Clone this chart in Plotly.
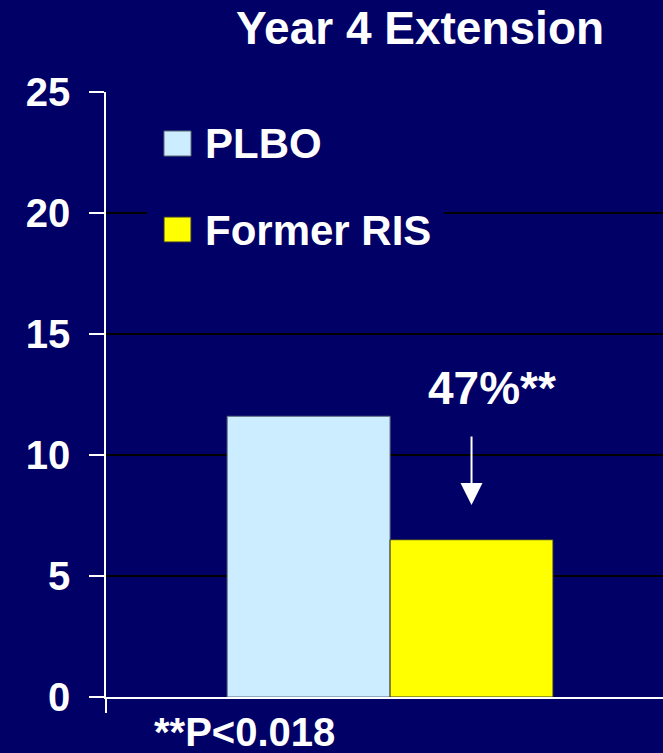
import plotly.graph_objects as go

# Data
groups = ["PLBO", "Former RIS"]
values = [11.6, 6.5]
bar_colors = ["#CCECFF", "#FFFF00"]
line_colors = ["#5A6A78", "#333333"]
y_ticks = [0, 5, 10, 15, 20, 25]
title_text = "Year 4 Extension"
change_label = "47%**"
footnote = "**P<0.018"

BG = "#000066"
FONT = "Liberation Sans, Arial, Helvetica, sans-serif"
W, H = 663, 753
BARGAP = 0.415

# plot-area geometry in pixels
PL, PR, PT, PB = 106, 663, 92, 697


def fx(px):
    return (px - PL) / (PR - PL)


def fy(py):
    return (PB - py) / (PB - PT)


fig = go.Figure()
for name, v, c, lc in zip(groups, values, bar_colors, line_colors):
    fig.add_trace(go.Bar(
        x=[0], y=[v], name=name, marker=dict(color=c, line=dict(color=lc, width=1)),
        showlegend=False, hoverinfo="skip",
    ))

fig.update_layout(
    width=W, height=H,
    paper_bgcolor=BG, plot_bgcolor=BG,
    margin=dict(l=PL, r=W - PR, t=PT, b=H - PB),
    barmode="group", bargap=BARGAP, bargroupgap=0,
    font=dict(family=FONT, color="white", size=40, weight="bold"),
    title=dict(text=title_text, x=420 / W, xanchor="center", y=1 - 28 / H, yanchor="middle",
               xref="container", yref="container",
               font=dict(size=46, family=FONT, color="white", weight="bold")),
    showlegend=False,
)

fig.update_xaxes(
    range=[-0.51, 0.49], showgrid=False, zeroline=False,
    showline=True, linecolor="white", linewidth=1.5,
    tickmode="array", tickvals=[-0.51], ticktext=[""],
    ticks="outside", ticklen=14, tickcolor="white", tickwidth=1.5,
)
fig.update_yaxes(
    range=[0, 25], tickvals=y_ticks, showgrid=True, gridcolor="black", gridwidth=2,
    zeroline=False, showline=True, linecolor="white", linewidth=1.5,
    ticks="outside", ticklen=15, tickcolor="white", tickwidth=1.5,
    ticklabelstandoff=11,
    tickfont=dict(size=40, family=FONT, color="white", weight="bold"),
)

# legend panel (covers the gridline behind it)
fig.add_shape(type="rect", xref="paper", yref="paper",
              x0=fx(147), x1=fx(444), y0=fy(262), y1=fy(112),
              fillcolor=BG, line=dict(width=0), layer="above")
for i, (name, c, lc) in enumerate(zip(groups, bar_colors, line_colors)):
    top = 131 + i * 86
    fig.add_shape(type="rect", xref="paper", yref="paper",
                  x0=fx(164), x1=fx(191), y0=fy(top + 25), y1=fy(top),
                  fillcolor=c, line=dict(color=lc, width=1), layer="above")
    fig.add_annotation(text=name, xref="paper", yref="paper",
                       x=fx(203), y=fy(top + 13), xanchor="left", yanchor="middle",
                       showarrow=False,
                       font=dict(size=42, family=FONT, color="white", weight="bold"))

# reduction arrow above the second bar
bar_offset = (1 - BARGAP) / 4
fig.add_annotation(x=bar_offset, y=fy(505), xref="x", yref="paper",
                   ax=0, ay=-70, axref="pixel", ayref="pixel", text="",
                   showarrow=True, arrowhead=2, arrowsize=2.2, arrowwidth=2,
                   arrowcolor="white")
fig.add_annotation(text=change_label, x=fx(492), y=fy(388), xref="paper", yref="paper",
                   xanchor="center", yanchor="middle", showarrow=False,
                   font=dict(size=46, family=FONT, color="white", weight="bold"))

fig.add_annotation(text=footnote, x=fx(244), y=fy(732), xref="paper", yref="paper",
                   xanchor="center", yanchor="middle", showarrow=False,
                   font=dict(size=40, family=FONT, color="white", weight="bold"))

fig.write_html("out.html")
